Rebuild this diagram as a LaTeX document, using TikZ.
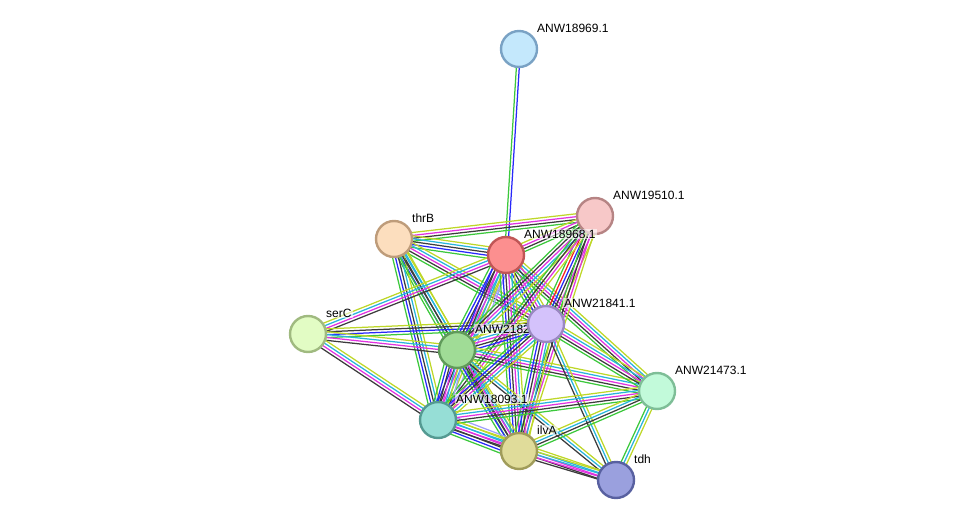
\documentclass[tikz,border=0pt]{standalone}
\usepackage{fontspec}
\setmainfont{Liberation Sans}
\usetikzlibrary{calc,backgrounds}
% evidence channel colours
\definecolor{egr}{RGB}{60,200,60}
\definecolor{ebl}{RGB}{40,40,250}
\definecolor{ebk}{RGB}{60,60,60}
\definecolor{emg}{RGB}{225,50,225}
\definecolor{ecy}{RGB}{40,180,220}
\definecolor{eyl}{RGB}{190,215,40}
\definecolor{erd}{RGB}{250,30,30}
\definecolor{ehm}{RGB}{160,160,250}
% protein fills and rims
\definecolor{fn69}{RGB}{196,232,252}\definecolor{dn69}{RGB}{122,162,196}
\definecolor{fn10}{RGB}{247,200,200}\definecolor{dn10}{RGB}{182,132,132}
\definecolor{fthrB}{RGB}{252,222,190}\definecolor{dthrB}{RGB}{190,156,122}
\definecolor{fn68}{RGB}{252,143,143}\definecolor{dn68}{RGB}{192,86,86}
\definecolor{fserC}{RGB}{226,252,196}\definecolor{dserC}{RGB}{160,186,128}
\definecolor{fn21}{RGB}{160,220,150}\definecolor{dn21}{RGB}{96,154,90}
\definecolor{fn41}{RGB}{212,194,251}\definecolor{dn41}{RGB}{154,136,193}
\definecolor{fn73}{RGB}{194,250,218}\definecolor{dn73}{RGB}{126,190,151}
\definecolor{fn93}{RGB}{150,222,214}\definecolor{dn93}{RGB}{84,154,146}
\definecolor{filvA}{RGB}{224,220,154}\definecolor{dilvA}{RGB}{160,156,90}
\definecolor{ftdh}{RGB}{154,160,222}\definecolor{dtdh}{RGB}{88,96,160}
\tikzset{
  prot/.style = {circle, minimum size=36pt, inner sep=0pt, line width=2.4pt},
  lab/.style  = {font=\fontsize{12}{14}\selectfont, inner sep=1pt, anchor=west,
                 fill=white, fill opacity=0.6, text opacity=1},
  edge/.style = {line width=1.25pt},
}
\newcommand{\gap}{2.9}
% parallel bundle of evidence lines between two proteins
\newcommand{\bund}[3]{%
  \foreach \col [count=\i] in {#3}{\xdef\nb{\i}}%
  \foreach \col [count=\i] in {#3}{%
    \pgfmathsetmacro{\off}{(\i-(\nb+1)/2)*\gap}%
    \draw[edge, draw=\col] ($(#1.center)!\off pt!90:(#2.center)$) -- ($(#2.center)!\off pt!-90:(#1.center)$);
  }%
}
\begin{document}
\begin{tikzpicture}[x=1pt, y=-1pt]
\useasboundingbox (0,0) rectangle (976,526);

%── proteins ──────────────────────────────
\foreach \nm/\px/\py/\txt in {n69/519/49/ANW18969.1, n10/595/216/ANW19510.1,
    thrB/394/239/thrB, n68/506/255/ANW18968.1, serC/308/334/serC,
    n21/457/350/ANW21821.1, n41/546/324/ANW21841.1, n73/657/391/ANW21473.1,
    n93/438/420/ANW18093.1, ilvA/519/451/ilvA, tdh/616/480/tdh}{
  \node[prot, fill=f\nm, draw=d\nm] (\nm) at (\px,\py) {};
  \node[lab] (l\nm) at ($(\nm)+(17,-21)$) {\txt};
}

%── evidence bundles ──────────────────────
\begin{pgfonlayer}{background}
  \bund{n69}{n68}{egr,ebl}
  \bund{thrB}{n10}{egr,ebk,emg,eyl}
  \bund{thrB}{n68}{egr,ebl,ebk,ecy,eyl}
  \bund{n68}{n10}{egr,ebk,emg,eyl}
  \bund{thrB}{n41}{egr,ebk,emg,ecy,eyl}
  \bund{thrB}{n21}{egr,ebl,ebk,ecy,eyl}
  \bund{thrB}{n93}{egr,ebl,ebk,ecy,eyl}
  \bund{thrB}{ilvA}{egr,ebk,ecy,eyl}
  \bund{serC}{n68}{ebk,emg,ecy,eyl}
  \bund{serC}{n41}{egr,ebl,ebk,eyl}
  \bund{serC}{n21}{ebk,emg,ecy,eyl}
  \bund{serC}{n93}{ebk,emg,ecy,eyl}
  \bund{n68}{n41}{egr,ebl,ebk,emg,ecy,eyl}
  \bund{n68}{n21}{egr,ebl,ebk,emg,ecy,eyl,ehm}
  \bund{n68}{n93}{ebl,ebk,emg,ecy,eyl,ehm}
  \bund{n68}{ilvA}{egr,ebl,ebk,emg,ecy,eyl}
  \bund{n68}{n73}{egr,ebk,emg,ecy,eyl}
  \bund{n10}{n41}{egr,erd,ebl,ebk,emg,eyl}
  \bund{n10}{n21}{egr,ebk,emg,ecy,eyl}
  \bund{n10}{n93}{egr,ebk,emg,eyl}
  \bund{n10}{ilvA}{egr,ebk,emg,eyl}
  \bund{n21}{n41}{egr,ebl,ebk,emg,ecy,eyl}
  \bund{n21}{n93}{egr,ebl,ebk,emg,ecy,eyl,ehm}
  \bund{n21}{ilvA}{egr,ebl,ebk,emg,ecy,eyl}
  \bund{n21}{n73}{egr,ebk,emg,ecy,eyl}
  \bund{n21}{tdh}{ebk,ecy,eyl}
  \bund{n41}{n93}{egr,ebl,ebk,emg,ecy,eyl}
  \bund{n41}{ilvA}{egr,ebl,ebk,emg,ecy,eyl}
  \bund{n41}{n73}{egr,ebk,emg,ecy,eyl}
  \bund{n41}{tdh}{ebk,ecy,eyl}
  \bund{n93}{ilvA}{egr,ebl,ebk,emg,ecy,eyl,ehm}
  \bund{n93}{n73}{egr,ebk,emg,ecy,eyl}
  \bund{n93}{tdh}{ebk,emg,ecy,eyl}
  \bund{ilvA}{n73}{egr,ebk,ecy,eyl}
  \bund{ilvA}{tdh}{ebk,emg,ecy,eyl}
  \bund{n73}{tdh}{egr,ecy,eyl}
\end{pgfonlayer}

\end{tikzpicture}
\end{document}
